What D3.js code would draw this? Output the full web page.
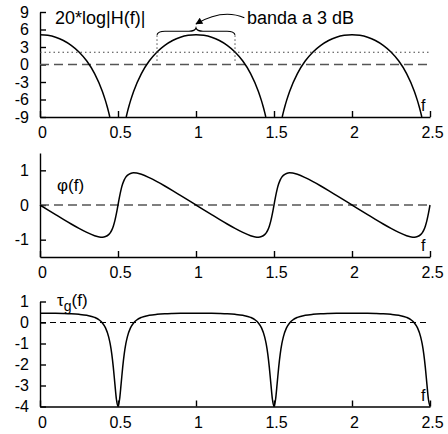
<!DOCTYPE html>
<html>
<head>
<meta charset="utf-8">
<script src="https://cdn.jsdelivr.net/npm/d3@7"></script>
<style>
  body { margin: 0; background: #fff; }
  svg { font-family: "Liberation Sans", Arial, Helvetica, sans-serif; }
</style>
</head>
<body>
<div id="chart-area"></div>
<script>
// DATA

const xTicks = [0, 0.5, 1, 1.5, 2, 2.5]
const magTicks = [-9, -6, -3, 0, 3, 6, 9]
const phaseTicks = [-1, 0, 1]
const delayTicks = [-4, -3, -2, -1, 0, 1]

// 20*log|H(f)| in dB, null = curve leaves the plot (below -9)
const magFreq = [0, 0.05, 0.1, 0.15, 0.2, 0.25, 0.3, 0.35, 0.4, 0.42, 0.43, 0.44, 0.4475, 0.5,
  0.5525, 0.56, 0.57, 0.58, 0.6, 0.65, 0.7, 0.75, 0.8, 0.85, 0.9, 0.95, 1,
  1.05, 1.1, 1.15, 1.2, 1.25, 1.3, 1.35, 1.4, 1.42, 1.43, 1.44, 1.4475, 1.5,
  1.5525, 1.56, 1.57, 1.58, 1.6, 1.65, 1.7, 1.75, 1.8, 1.85, 1.9, 1.95, 2,
  2.05, 2.1, 2.15, 2.2, 2.25, 2.3, 2.35, 2.4, 2.42, 2.43, 2.44, 2.4475]
const magDb = [5.11, 5.00, 4.68, 4.12, 3.29, 2.15, 0.59, -1.55, -4.61, -6.24, -7.16, -8.17, -9, null,
  -9, -8.17, -7.16, -6.24, -4.61, -1.55, 0.59, 2.15, 3.29, 4.12, 4.68, 5.00, 5.11,
  5.00, 4.68, 4.12, 3.29, 2.15, 0.59, -1.55, -4.61, -6.24, -7.16, -8.17, -9, null,
  -9, -8.17, -7.16, -6.24, -4.61, -1.55, 0.59, 2.15, 3.29, 4.12, 4.68, 5.00, 5.11,
  5.00, 4.68, 4.12, 3.29, 2.15, 0.59, -1.55, -4.61, -6.24, -7.16, -8.17, -9]
const bandLevel = 2.1   // dotted 3 dB line

// phase and group delay share one frequency grid
const freq = [0, 0.05, 0.1, 0.15, 0.2, 0.25, 0.3, 0.35, 0.38, 0.4, 0.42, 0.44, 0.45, 0.46, 0.47, 0.48, 0.49,
  0.5, 0.51, 0.52, 0.53, 0.54, 0.55, 0.56, 0.58, 0.6, 0.62, 0.65, 0.7, 0.75, 0.8, 0.85, 0.9, 0.95,
  1, 1.05, 1.1, 1.15, 1.2, 1.25, 1.3, 1.35, 1.38, 1.4, 1.42, 1.44, 1.45, 1.46, 1.47, 1.48, 1.49,
  1.5, 1.51, 1.52, 1.53, 1.54, 1.55, 1.56, 1.58, 1.6, 1.62, 1.65, 1.7, 1.75, 1.8, 1.85, 1.9, 1.95,
  2, 2.05, 2.1, 2.15, 2.2, 2.25, 2.3, 2.35, 2.38, 2.4, 2.42, 2.44, 2.45, 2.46, 2.47, 2.48, 2.49, 2.5]
const phase = [0, -0.140, -0.278, -0.415, -0.548, -0.675, -0.791, -0.885, -0.920, -0.927, -0.911, -0.855, -0.802, -0.724, -0.611, -0.452, -0.244,
  0, 0.244, 0.452, 0.611, 0.724, 0.802, 0.855, 0.911, 0.927, 0.920, 0.885, 0.791, 0.675, 0.548, 0.415, 0.278, 0.140,
  0, -0.140, -0.278, -0.415, -0.548, -0.675, -0.791, -0.885, -0.920, -0.927, -0.911, -0.855, -0.802, -0.724, -0.611, -0.452, -0.244,
  0, 0.244, 0.452, 0.611, 0.724, 0.802, 0.855, 0.911, 0.927, 0.920, 0.885, 0.791, 0.675, 0.548, 0.415, 0.278, 0.140,
  0, -0.140, -0.278, -0.415, -0.548, -0.675, -0.791, -0.885, -0.920, -0.927, -0.911, -0.855, -0.802, -0.724, -0.611, -0.452, -0.244, 0]
const delay = [0.444, 0.443, 0.439, 0.430, 0.416, 0.390, 0.343, 0.243, 0.120, -0.021, -0.257, -0.682, -1.022, -1.496, -2.135, -2.922, -3.667,
  -4, -3.667, -2.922, -2.135, -1.496, -1.022, -0.682, -0.257, -0.021, 0.120, 0.243, 0.343, 0.390, 0.416, 0.430, 0.439, 0.443,
  0.444, 0.443, 0.439, 0.430, 0.416, 0.390, 0.343, 0.243, 0.120, -0.021, -0.257, -0.682, -1.022, -1.496, -2.135, -2.922, -3.667,
  -4, -3.667, -2.922, -2.135, -1.496, -1.022, -0.682, -0.257, -0.021, 0.120, 0.243, 0.343, 0.390, 0.416, 0.430, 0.439, 0.443,
  0.444, 0.443, 0.439, 0.430, 0.416, 0.390, 0.343, 0.243, 0.120, -0.021, -0.257, -0.682, -1.022, -1.496, -2.135, -2.922, -3.667, -4]

// CHART AREA

const width = 448
const height = 434

const svg = d3.select("#chart-area")
  .append("svg")
    .attr("width", width)
    .attr("height", height)

svg.append("defs").append("marker")
    .attr("id", "head")
    .attr("viewBox", "0 0 10 10")
    .attr("refX", 9).attr("refY", 5)
    .attr("markerWidth", 9).attr("markerHeight", 7)
    .attr("markerUnits", "userSpaceOnUse")
    .attr("orient", "auto")
  .append("path")
    .attr("d", "M0,0 L10,5 L0,10 Z")
    .attr("fill", "#000")

const xScale = d3.scaleLinear().domain([0, 2.5]).range([40, 430])

// plain labels with an ascii hyphen, as in the reference
const plain = (d) => String(d)

const panels = [
  { domain: [-9, 9], range: [117, 12], ticks: magTicks },
  { domain: [-1.5, 1.5], range: [257, 153], ticks: phaseTicks },
  { domain: [-4, 1], range: [406.5, 301.5], ticks: delayTicks }
]

panels.forEach((p) => {
  p.y = d3.scaleLinear().domain(p.domain).range(p.range)
  p.g = svg.append("g")

  const xAxisCall = d3.axisBottom(xScale)
    .tickValues(xTicks)
    .tickFormat(plain)
    .tickSizeInner(-6).tickSizeOuter(0).tickPadding(10)
  const xg = p.g.append("g")
    .attr("class", "x-axis")
    .attr("transform", "translate(0, " + p.range[0] + ")")
    .call(xAxisCall)
  xg.selectAll("text").attr("font-size", "16px").attr("dx", "2px")

  const yAxisCall = d3.axisLeft(p.y)
    .tickValues(p.ticks)
    .tickFormat(plain)
    .tickSizeInner(-6).tickSizeOuter(0).tickPadding(11)
  const yg = p.g.append("g")
    .attr("class", "y-axis")
    .attr("transform", "translate(" + xScale(0) + ", 0)")
    .call(yAxisCall)
  yg.selectAll("text").attr("font-size", "16px")

  p.g.selectAll(".domain, .tick line").attr("stroke", "#000").attr("stroke-width", 1.4)
  p.g.selectAll(".tick text").attr("fill", "#000").attr("font-family", "Liberation Sans, Arial, sans-serif")

  // "f" label at the end of the frequency axis
  p.g.append("text")
    .attr("x", 421)
    .attr("y", p.range[0] - 6)
    .attr("font-size", "16px")
    .text("f")
})

// zero reference lines
const [pMag, pPh, pDel] = panels

pMag.g.append("line")
  .attr("x1", xScale(0)).attr("x2", xScale(2.5))
  .attr("y1", pMag.y(0)).attr("y2", pMag.y(0))
  .attr("stroke", "#555").attr("stroke-width", 1.3).attr("stroke-dasharray", "9,5")

pMag.g.append("line")
  .attr("x1", xScale(0)).attr("x2", xScale(2.5))
  .attr("y1", pMag.y(bandLevel)).attr("y2", pMag.y(bandLevel))
  .attr("stroke", "#444").attr("stroke-width", 1.2).attr("stroke-dasharray", "1.5,3")

pPh.g.append("line")
  .attr("x1", xScale(0)).attr("x2", xScale(2.5))
  .attr("y1", pPh.y(0)).attr("y2", pPh.y(0))
  .attr("stroke", "#555").attr("stroke-width", 1.3).attr("stroke-dasharray", "9,5")

pDel.g.append("line")
  .attr("x1", xScale(0)).attr("x2", xScale(2.5))
  .attr("y1", pDel.y(0)).attr("y2", pDel.y(0))
  .attr("stroke", "#000").attr("stroke-width", 1.1).attr("stroke-dasharray", "6,4")

// CURVES

const magData = magFreq.map((f, i) => ({ f: f, v: magDb[i] }))
const phaseData = freq.map((f, i) => ({ f: f, v: phase[i] }))
const delayData = freq.map((f, i) => ({ f: f, v: delay[i] }))

function drawCurve(p, data) {
  const line = d3.line()
    .defined((d) => d.v !== null)
    .x((d) => xScale(d.f))
    .y((d) => p.y(d.v))
    .curve(d3.curveMonotoneX)
  p.g.append("path")
    .datum(data)
    .attr("d", line)
    .attr("fill", "none")
    .attr("stroke", "#000")
    .attr("stroke-width", 1.5)
}

drawCurve(pMag, magData)
drawCurve(pPh, phaseData)
drawCurve(pDel, delayData)

// ANNOTATIONS (top panel)

// dotted verticals at the 3 dB points
;[0.75, 1.25].forEach((f) => {
  pMag.g.append("line")
    .attr("x1", xScale(f)).attr("x2", xScale(f))
    .attr("y1", pMag.y(5.0)).attr("y2", pMag.y(0.4))
    .attr("stroke", "#444").attr("stroke-width", 1).attr("stroke-dasharray", "1.5,2.5")
})

// brace over the 3 dB band
const bx0 = xScale(0.75), bx1 = xScale(1.25), bxc = xScale(1)
const yLow = pMag.y(5.1), yMid = pMag.y(5.7), yTop = pMag.y(6.25)
const brace = d3.path()
brace.moveTo(bx0, yLow)
brace.quadraticCurveTo(bx0 + 1, yMid, bx0 + 8, yMid)
brace.lineTo(bxc - 7, yMid)
brace.quadraticCurveTo(bxc - 1, yMid, bxc, yTop)
brace.quadraticCurveTo(bxc + 1, yMid, bxc + 7, yMid)
brace.lineTo(bx1 - 8, yMid)
brace.quadraticCurveTo(bx1 - 1, yMid, bx1, yLow)
pMag.g.append("path")
  .attr("d", brace.toString())
  .attr("fill", "none")
  .attr("stroke", "#000")
  .attr("stroke-width", 1.2)

// curved arrow from the label to the brace
const arrow = d3.path()
arrow.moveTo(xScale(1.31), pMag.y(8.0))
arrow.quadraticCurveTo(xScale(1.17), pMag.y(9.6), xScale(1.0), pMag.y(6.95))
pMag.g.append("path")
  .attr("d", arrow.toString())
  .attr("fill", "none")
  .attr("stroke", "#000")
  .attr("stroke-width", 1.1)
  .attr("marker-end", "url(#head)")

pMag.g.append("text")
  .attr("x", 247).attr("y", 24)
  .attr("font-size", "18px")
  .text("banda a 3 dB")

pMag.g.append("text")
  .attr("x", 55).attr("y", 24)
  .attr("font-size", "18px")
  .text("20*log|H(f)|")

pPh.g.append("text")
  .attr("x", 57).attr("y", 191)
  .attr("font-size", "17px")
  .text("φ(f)")

const tau = pDel.g.append("text")
  .attr("x", 57).attr("y", 306)
  .attr("font-size", "17px")
tau.append("tspan").text("τ")
tau.append("tspan").attr("font-size", "14px").attr("dy", 5).text("g")
tau.append("tspan").attr("dy", -5).text("(f)")
</script>
</body>
</html>
